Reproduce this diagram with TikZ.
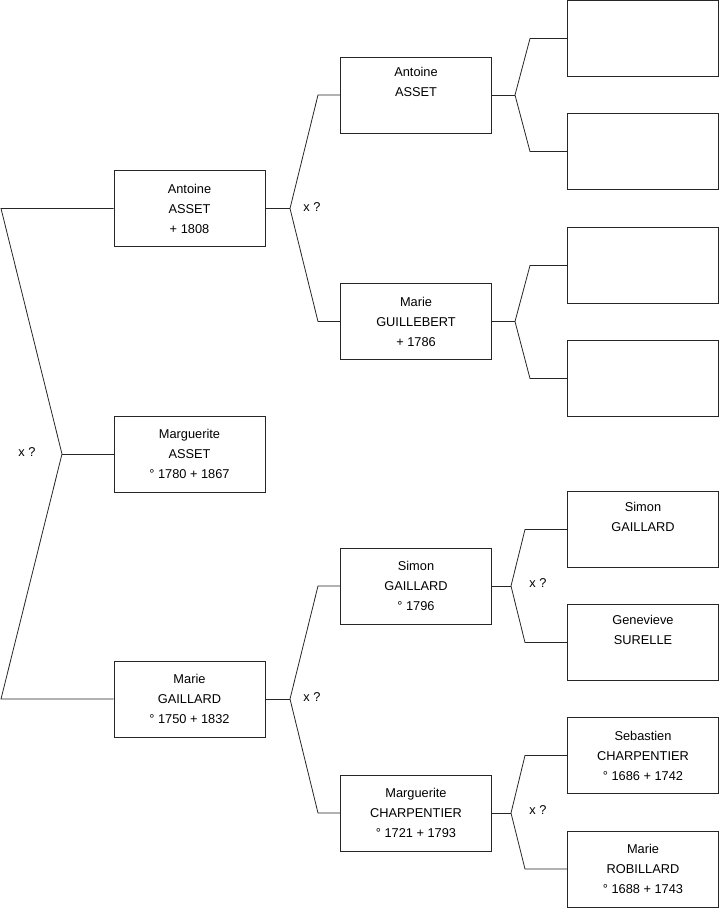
\documentclass[tikz,border=0pt]{standalone}
\usepackage{fontspec}
\setmainfont{Liberation Sans}
\begin{document}
\begin{tikzpicture}[
    x=1pt, y=-1pt,
    person/.style = {rectangle, draw=black!85, line width=0.8pt, minimum width=151pt, minimum height=76pt, inner sep=0pt, align=center, font=\fontsize{12.8}{20}\selectfont},
    union/.style = {font=\fontsize{12.8}{14}\selectfont, inner sep=0pt},
    line/.style = {draw=black!85, line width=0.8pt}
]
    \useasboundingbox (0,0) rectangle (719,908);

    % Nodes - generation 1
    \node [person] (antoineA) at (189.5,208.5) {Antoine\\ASSET\\+ 1808};
    \node [person] (margueriteA) at (189.5,454) {Marguerite\\ASSET\\° 1780 + 1867};
    \node [person] (marieG) at (189.5,699) {Marie\\GAILLARD\\° 1750 + 1832};

    % generation 2
    \node [person] (antoineB) at (416,95) {Antoine\\ASSET\\\strut};
    \node [person] (marieGu) at (416,321.5) {Marie\\GUILLEBERT\\+ 1786};
    \node [person] (simonG) at (416,586) {Simon\\GAILLARD\\° 1796};
    \node [person] (margueriteC) at (416,813) {Marguerite\\CHARPENTIER\\° 1721 + 1793};

    % generation 3
    \node [person] (empty1) at (643,38.5) {};
    \node [person] (empty2) at (643,151.5) {};
    \node [person] (empty3) at (643,265.5) {};
    \node [person] (empty4) at (643,378.5) {};
    \node [person] (simonGb) at (643,529.5) {Simon\\GAILLARD\\\strut};
    \node [person] (genevieveS) at (643,642.5) {Genevieve\\SURELLE\\\strut};
    \node [person] (sebastienC) at (643,755.5) {Sebastien\\CHARPENTIER\\° 1686 + 1742};
    \node [person] (marieR) at (643,869) {Marie\\ROBILLARD\\° 1688 + 1743};

    % Forks
    \coordinate (f0) at (62,454);
    \coordinate (f0a) at (1,208.5);
    \coordinate (f0b) at (1,699);

    \coordinate (f1) at (290,208.5);
    \coordinate (f1a) at (318,95);
    \coordinate (f1b) at (318,321.5);

    \coordinate (f2) at (290,699);
    \coordinate (f2a) at (318,586);
    \coordinate (f2b) at (318,813);

    \coordinate (f3) at (515,95);
    \coordinate (f3a) at (530,38.5);
    \coordinate (f3b) at (530,151.5);

    \coordinate (f4) at (515,321.5);
    \coordinate (f4a) at (530,265.5);
    \coordinate (f4b) at (530,378.5);

    \coordinate (f5) at (511,586);
    \coordinate (f5a) at (525,529.5);
    \coordinate (f5b) at (525,642.5);

    \coordinate (f6) at (511,813);
    \coordinate (f6a) at (525,755.5);
    \coordinate (f6b) at (525,869);

    % Labels
    \node [union] (x0) at (27,452) {x ?};
    \node [union] (x1) at (312,207) {x ?};
    \node [union] (x2) at (312,697) {x ?};
    \node [union] (x5) at (538,583) {x ?};
    \node [union] (x6) at (538,810) {x ?};

    % Edges
    \path [line] (margueriteA) -- (f0);
    \path [line] (antoineA) -- (f0a) -- (f0) -- (f0b) -- (marieG);

    \path [line] (antoineA) -- (f1);
    \path [line] (antoineB) -- (f1a) -- (f1) -- (f1b) -- (marieGu);

    \path [line] (marieG) -- (f2);
    \path [line] (simonG) -- (f2a) -- (f2) -- (f2b) -- (margueriteC);

    \path [line] (antoineB) -- (f3);
    \path [line] (empty1) -- (f3a) -- (f3) -- (f3b) -- (empty2);

    \path [line] (marieGu) -- (f4);
    \path [line] (empty3) -- (f4a) -- (f4) -- (f4b) -- (empty4);

    \path [line] (simonG) -- (f5);
    \path [line] (simonGb) -- (f5a) -- (f5) -- (f5b) -- (genevieveS);

    \path [line] (margueriteC) -- (f6);
    \path [line] (sebastienC) -- (f6a) -- (f6) -- (f6b) -- (marieR);

\end{tikzpicture}
\end{document}
